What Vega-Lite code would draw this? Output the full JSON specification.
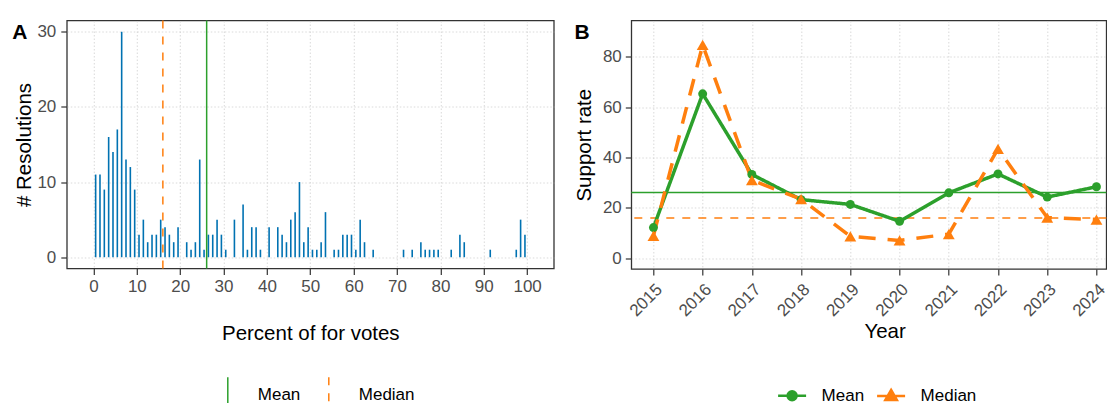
{
  "$schema": "https://vega.github.io/schema/vega-lite/v6.json",
  "background": "white",
  "padding": {"left": 10.8, "top": 18.5, "right": 0, "bottom": 0},
  "spacing": 18.5,
  "config": {
    "font": "Liberation Sans",
    "view": {"stroke": "#333333", "strokeWidth": 1.3},
    "axis": {
      "domain": false, "grid": true, "gridColor": "#d0d0d0", "gridDash": [1.5, 2], "gridWidth": 0.8,
      "tickColor": "#333333", "tickSize": 6, "tickWidth": 1.2,
      "labelColor": "#4d4d4d", "labelFontSize": 17, "labelFont": "Liberation Sans", "labelFlush": false, "labelOverlap": false,
      "titleFontSize": 20.5, "titleFontWeight": "normal", "titleColor": "#000000", "titleFont": "Liberation Sans"
    },
    "legend": {"labelFontSize": 17, "labelColor": "#000000", "labelFont": "Liberation Sans"}
  },
  "datasets": {
    "hist": [
      {"pct": 0.5, "n": 11}, {"pct": 1.5, "n": 11}, {"pct": 2.5, "n": 9}, {"pct": 3.5, "n": 16}, {"pct": 4.5, "n": 14},
      {"pct": 5.5, "n": 17}, {"pct": 6.5, "n": 30}, {"pct": 7.5, "n": 13}, {"pct": 8.5, "n": 12}, {"pct": 9.5, "n": 9},
      {"pct": 10.5, "n": 3}, {"pct": 11.5, "n": 5}, {"pct": 12.5, "n": 2}, {"pct": 13.5, "n": 3}, {"pct": 14.5, "n": 3},
      {"pct": 15.5, "n": 5}, {"pct": 16.5, "n": 4}, {"pct": 17.5, "n": 3}, {"pct": 18.5, "n": 2}, {"pct": 19.5, "n": 4},
      {"pct": 21.5, "n": 2}, {"pct": 22.5, "n": 1}, {"pct": 23.5, "n": 2}, {"pct": 24.5, "n": 13}, {"pct": 25.5, "n": 1},
      {"pct": 26.5, "n": 3}, {"pct": 27.5, "n": 3}, {"pct": 28.5, "n": 5}, {"pct": 29.5, "n": 3}, {"pct": 30.5, "n": 1},
      {"pct": 32.5, "n": 5}, {"pct": 34.5, "n": 7}, {"pct": 35.5, "n": 1}, {"pct": 36.5, "n": 4}, {"pct": 37.5, "n": 4},
      {"pct": 38.5, "n": 1}, {"pct": 40.5, "n": 4}, {"pct": 42.5, "n": 4}, {"pct": 43.5, "n": 3}, {"pct": 44.5, "n": 2},
      {"pct": 45.5, "n": 5}, {"pct": 46.5, "n": 6}, {"pct": 47.5, "n": 10}, {"pct": 48.5, "n": 2}, {"pct": 49.5, "n": 4},
      {"pct": 50.5, "n": 1}, {"pct": 51.5, "n": 1}, {"pct": 52.5, "n": 2}, {"pct": 53.5, "n": 6}, {"pct": 55.5, "n": 1},
      {"pct": 56.5, "n": 1}, {"pct": 57.5, "n": 3}, {"pct": 58.5, "n": 3}, {"pct": 59.5, "n": 3}, {"pct": 60.5, "n": 1},
      {"pct": 61.5, "n": 5}, {"pct": 62.5, "n": 2}, {"pct": 64.5, "n": 1}, {"pct": 71.5, "n": 1}, {"pct": 73.5, "n": 1},
      {"pct": 75.5, "n": 2}, {"pct": 76.5, "n": 1}, {"pct": 77.5, "n": 1}, {"pct": 78.5, "n": 1}, {"pct": 79.5, "n": 1},
      {"pct": 82.5, "n": 1}, {"pct": 84.5, "n": 3}, {"pct": 85.5, "n": 2}, {"pct": 91.5, "n": 1}, {"pct": 97.5, "n": 1},
      {"pct": 98.5, "n": 5}, {"pct": 99.5, "n": 3}
    ],
    "overall": [
      {"stat": "Mean", "value": 26.1},
      {"stat": "Median", "value": 16}
    ],
    "yearly": [
      {"year": 2015, "stat": "Mean", "value": 12.2}, {"year": 2016, "stat": "Mean", "value": 65.3},
      {"year": 2017, "stat": "Mean", "value": 33.3}, {"year": 2018, "stat": "Mean", "value": 23.3},
      {"year": 2019, "stat": "Mean", "value": 21.4}, {"year": 2020, "stat": "Mean", "value": 14.7},
      {"year": 2021, "stat": "Mean", "value": 26.0}, {"year": 2022, "stat": "Mean", "value": 33.5},
      {"year": 2023, "stat": "Mean", "value": 24.3}, {"year": 2024, "stat": "Mean", "value": 28.4},
      {"year": 2015, "stat": "Median", "value": 8.9}, {"year": 2016, "stat": "Median", "value": 84.7},
      {"year": 2017, "stat": "Median", "value": 31}, {"year": 2018, "stat": "Median", "value": 23.5},
      {"year": 2019, "stat": "Median", "value": 8.7}, {"year": 2020, "stat": "Median", "value": 7.1},
      {"year": 2021, "stat": "Median", "value": 9.6}, {"year": 2022, "stat": "Median", "value": 43.4},
      {"year": 2023, "stat": "Median", "value": 16.2}, {"year": 2024, "stat": "Median", "value": 15.4}
    ]
  },
  "resolve": {
    "scale": {"color": "independent", "strokeDash": "independent", "shape": "independent", "stroke": "independent"},
    "legend": {"color": "independent", "strokeDash": "independent", "shape": "independent", "stroke": "independent"}
  },
  "hconcat": [
    {
      "width": 487,
      "height": 248,
      "resolve": {"axis": {"x": "independent"}},
      "layer": [
        {
          "data": {"name": "hist"},
          "mark": {"type": "bar", "width": 1.6, "color": "#0072B2"},
          "encoding": {
            "x": {"field": "pct", "type": "quantitative",
              "scale": {"domain": [-5, 105], "nice": false, "zero": false},
              "axis": {"orient": "bottom", "values": [0, 10, 20, 30, 40, 50, 60, 70, 80, 90, 100], "title": "Percent of for votes", "labelPadding": 4, "titleY": 55}},
            "y": {"field": "n", "type": "quantitative",
              "scale": {"domain": [-1.5, 31.5], "nice": false, "zero": false},
              "axis": {"values": [0, 10, 20, 30], "title": "# Resolutions", "labelPadding": 5, "titlePadding": 2}}
          }
        },
        {
          "data": {"name": "overall"},
          "mark": {"type": "rule", "strokeWidth": 1.5},
          "encoding": {
            "x": {"field": "value", "type": "quantitative",
              "axis": {"orient": "top", "title": "A", "ticks": false, "labels": false, "grid": false, "domain": false,
                "titleX": -55, "titleY": 18, "titleAngle": 0, "titleAlign": "left", "titleBaseline": "alphabetic",
                "titleFontSize": 21, "titleFontWeight": "bold", "titleColor": "#000000"}},
            "color": {"field": "stat", "type": "nominal",
              "scale": {"domain": ["Mean", "Median"], "range": ["#2ca02c", "#ff7f0e"]},
              "legend": {
                "title": null, "orient": "none", "legendX": 150, "legendY": 363.7, "direction": "horizontal",
                "symbolType": "M0,-1.8L0,1", "symbolSize": 400, "symbolStrokeWidth": 1.5, "labelOffset": 19, "columnPadding": 17
              }},
            "strokeDash": {"field": "stat", "type": "nominal",
              "scale": {"domain": ["Mean", "Median"], "range": [[1, 0], [8, 8]]},
              "legend": {
                "title": null, "orient": "none", "legendX": 150, "legendY": 363.7, "direction": "horizontal",
                "symbolType": "M0,-1.8L0,1", "symbolSize": 400, "symbolStrokeWidth": 1.5, "labelOffset": 19, "columnPadding": 17
              }}
          }
        }
      ]
    },
    {
      "width": 475,
      "height": 248.4,
      "resolve": {"axis": {"x": "independent"}},
      "layer": [
        {
          "data": {"name": "overall"},
          "mark": {"type": "point", "filled": true, "opacity": 0},
          "encoding": {
            "y": {"field": "value", "type": "quantitative",
              "scale": {"domain": [-4.2, 94.4], "nice": false, "zero": false},
              "axis": {"values": [0, 20, 40, 60, 80], "title": "Support rate", "labelPadding": 4, "titlePadding": 7.5}},
            "color": {"field": "stat", "type": "nominal",
              "scale": {"domain": ["Mean", "Median"], "range": ["#2ca02c", "#ff7f0e"]},
              "legend": {
                "title": null, "orient": "none", "legendX": 151.3, "legendY": 365.7, "direction": "horizontal",
                "symbolSize": 256, "symbolStrokeWidth": 2.5, "symbolOpacity": 1, "labelOffset": 20, "columnPadding": 7
              }},
            "stroke": {"field": "stat", "type": "nominal",
              "scale": {"domain": ["Mean", "Median"], "range": ["#2ca02c", "#ff7f0e"]},
              "legend": {
                "title": null, "orient": "none", "legendX": 151.3, "legendY": 365.7, "direction": "horizontal",
                "symbolSize": 256, "symbolStrokeWidth": 2.5, "symbolOpacity": 1, "labelOffset": 20, "columnPadding": 7
              }},
            "shape": {"field": "stat", "type": "nominal",
              "scale": {"domain": ["Mean", "Median"], "range": ["M-1.75,0L1.75,0M0.56,0A0.56,0.56,0,1,1,-0.56,0A0.56,0.56,0,1,1,0.56,0Z", "M-1.75,0L1.75,0M0,-0.75L0.72,0.5L-0.72,0.5Z"]},
              "legend": {
                "title": null, "orient": "none", "legendX": 151.3, "legendY": 365.7, "direction": "horizontal",
                "symbolSize": 256, "symbolStrokeWidth": 2.5, "symbolOpacity": 1, "labelOffset": 20, "columnPadding": 7
              }}
          }
        },
        {
          "data": {"name": "overall"},
          "mark": {"type": "rule", "strokeWidth": 1.5},
          "encoding": {
            "y": {"field": "value", "type": "quantitative"},
            "color": {"field": "stat", "type": "nominal", "legend": null},
            "strokeDash": {"condition": {"test": "datum.stat === 'Median'", "value": [8, 8]}, "value": [1, 0]}
          }
        },
        {
          "data": {"name": "yearly"},
          "mark": {"type": "line", "strokeWidth": 3.5},
          "encoding": {
            "x": {"field": "year", "type": "quantitative",
              "scale": {"domain": [2014.55, 2024.2], "nice": false, "zero": false},
              "axis": {"orient": "bottom", "values": [2015, 2016, 2017, 2018, 2019, 2020, 2021, 2022, 2023, 2024], "format": "d", "title": "Year",
                "labelAngle": -45, "labelAlign": "right", "labelBaseline": "top", "labelOffset": 0, "labelPadding": 6,
                "titleX": 253.3, "titleY": 53}},
            "y": {"field": "value", "type": "quantitative"},
            "color": {"field": "stat", "type": "nominal", "legend": null},
            "strokeDash": {"condition": {"test": "datum.stat === 'Median'", "value": [17, 12]}, "value": [1, 0]}
          }
        },
        {
          "data": {"name": "yearly"},
          "mark": {"type": "point", "filled": true, "opacity": 1},
          "encoding": {
            "x": {"field": "year", "type": "quantitative",
              "axis": {"orient": "top", "title": "B", "ticks": false, "labels": false, "grid": false, "domain": false,
                "titleX": -57.2, "titleY": 18, "titleAngle": 0, "titleAlign": "left", "titleBaseline": "alphabetic",
                "titleFontSize": 21, "titleFontWeight": "bold", "titleColor": "#000000"}},
            "y": {"field": "value", "type": "quantitative"},
            "color": {"field": "stat", "type": "nominal", "legend": null},
            "shape": {"condition": {"test": "datum.stat === 'Median'", "value": "triangle-up"}, "value": "circle"},
            "size": {"condition": {"test": "datum.stat === 'Median'", "value": 140}, "value": 80}
          }
        }
      ]
    }
  ]
}
